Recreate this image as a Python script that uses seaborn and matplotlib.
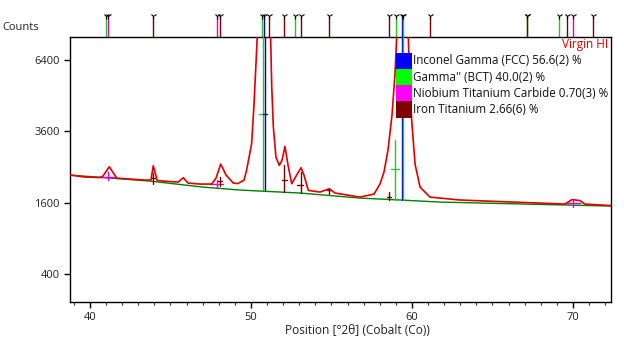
import numpy as np
import seaborn as sns
import matplotlib.pyplot as plt
from matplotlib.patches import Rectangle
from matplotlib.ticker import MultipleLocator, FixedLocator

# calculated profile (2theta, counts)
calc_theta = [38.76, 39.69, 40.62, 40.81, 41.20, 41.66, 42.48, 43.42, 43.79, 43.93, 44.18, 44.97,
              45.47, 45.80, 46.09, 46.83, 47.56, 47.83, 48.12, 48.45, 48.90, 49.19, 49.57, 49.73,
              50.04, 50.19, 50.31, 50.39, 50.81, 51.22, 51.29, 51.39, 51.55, 51.76, 51.93, 52.11,
              52.30, 52.53, 52.80, 53.11, 53.29, 53.56, 54.29, 54.86, 55.22, 56.77, 57.64, 58.01,
              58.26, 58.51, 58.76, 58.94, 59.05, 59.41, 59.77, 59.84, 59.98, 60.19, 60.50, 61.12,
              62.98, 65.47, 67.95, 69.50, 69.94, 70.43, 70.74, 72.36]
calc_counts = [2284, 2231, 2217, 2257, 2511, 2204, 2178, 2152, 2152, 2540, 2139, 2113,
               2100, 2212, 2075, 2049, 2049, 2204, 2588, 2284, 2075, 2062, 2152, 2420,
               3198, 4591, 6235, 7472, 20000, 7472, 5247, 3749, 2791, 2550, 2703, 3117,
               2559, 2057, 2257, 2483, 2284, 1892, 1851, 1932, 1828, 1732, 1803, 2049,
               2365, 3002, 4172, 5746, 7472, 20000, 7472, 5960, 3993, 2588, 1971, 1732,
               1665, 1629, 1595, 1573, 1675, 1652, 1573, 1540]

# background line
bg_theta = [38.76, 43.73, 47.02, 49.32, 53.04, 56.77, 59.25, 61.74, 72.36]
bg_counts = [2284, 2125, 1973, 1900, 1828, 1709, 1665, 1618, 1529]

phase_labels = ['Inconel Gamma (FCC) 56.6(2) %', "Gamma'' (BCT) 40.0(2) %",
                'Niobium Titanium Carbide 0.70(3) %', 'Iron Titanium 2.66(6) %']
legend_colors = ['#0000ff', '#00ff00', '#ff00ff', '#800000']
stick_colors = ['#0000c8', '#22cc22', '#e000e0', '#7a0000']

# reference positions shown above the plot (phase index)
ref_theta = [41.02, 41.12, 43.91, 47.89, 48.07, 50.70, 50.83, 51.14, 52.05, 52.75, 53.08,
             54.84, 58.59, 58.99, 59.38, 59.44, 61.12, 67.12, 67.14, 69.11, 69.65, 70.02, 71.26]
ref_phase = [1, 2, 3, 2, 3, 1, 0, 3, 3, 1, 3,
             3, 3, 1, 0, 1, 3, 1, 3, 1, 3, 2, 3]

# fitted peak markers inside the plot
mark_theta = [41.14, 43.91, 47.89, 48.09, 50.73, 50.87, 52.05, 53.08, 54.84, 58.59, 58.97, 59.38, 59.44, 70.02]
mark_phase = [2, 3, 2, 3, 1, 0, 3, 3, 3, 3, 1, 0, 1, 2]
mark_lo = [2152, 2062, 1950, 1999, 1895, 1895, 1851, 1840, 1810, 1665, 1665, 1665, 1665, 1508]
mark_hi = [2355, 2328, 2152, 2239, 30000, 30000, 2550, 2365, 1950, 1851, 3307, 30000, 30000, 1675]
mark_mid = [2239, 2204, 2049, 2120, 4220, 4220, 2160, 2024, 1892, 1732, 2438, 5000, 5000, 1589]
mark_left = [40.62, 43.80, 47.45, 47.98, 50.50, 50.75, 51.90, 52.88, 54.72, 58.45, 58.67, 59.30, 59.30, 69.50]
mark_right = [41.55, 44.05, 48.27, 48.22, 50.75, 50.98, 52.25, 53.25, 54.98, 58.72, 59.19, 59.50, 59.50, 70.43]

sns.set_style('white')
plt.rcParams['font.family'] = ['Open Sans', 'DejaVu Sans']

fig = plt.figure(figsize=(6.24, 3.51), dpi=100)
ax = fig.add_axes([70 / 624, 1 - 302 / 351, 541 / 624, 265 / 351])
ax.set_yscale('function', functions=(lambda v: np.sqrt(np.clip(v, 0, None)), np.square))

sns.lineplot(x=bg_theta, y=bg_counts, color='#008000', lw=1, ax=ax, sort=False, estimator=None, zorder=2)

for t, p, lo, hi, mid, l, r in zip(mark_theta, mark_phase, mark_lo, mark_hi, mark_mid, mark_left, mark_right):
    c = stick_colors[p]
    ax.plot([t, t], [lo, hi], color=c, lw=1, zorder=3)
    ax.plot([l, r], [mid, mid], color=c, lw=1, zorder=3)

sns.lineplot(x=calc_theta, y=calc_counts, color='#e00000', lw=1.2, ax=ax, sort=False, estimator=None, zorder=4)

ax.set_xlim(38.76, 72.36)
ax.set_ylim(150, 7472)
ax.xaxis.set_major_locator(MultipleLocator(10))
ax.xaxis.set_minor_locator(MultipleLocator(1))
ax.yaxis.set_major_locator(FixedLocator([400, 1600, 3600, 6400]))
ax.yaxis.set_minor_locator(FixedLocator([]))
ax.tick_params(axis='both', which='major', direction='out', length=4, width=1, labelsize=8,
               colors='black', labelcolor='#222222', bottom=True, left=True)
ax.tick_params(axis='x', which='minor', direction='out', length=2.5, width=0.8, bottom=True)
for s in ax.spines.values():
    s.set_color('black')
    s.set_linewidth(1)
ax.set_xlabel('Position [°2θ] (Cobalt (Co))', fontsize=8.6, color='#222222')
ax.xaxis.set_label_coords((357 - 70) / 541, -0.083)
ax.set_ylabel('')

# reference sticks above the frame
xt = ax.get_xaxis_transform()
for t, p in zip(ref_theta, ref_phase):
    ax.plot([t, t], [1.0, 1.075], color=stick_colors[p], lw=1, transform=xt, clip_on=False)
    ax.plot([t], [1.078], marker='1', ms=4.5, mew=0.8, color='black', transform=xt, clip_on=False)

# legend block
row_h = 16.25 / 265
for i, (lab, col) in enumerate(zip(phase_labels, legend_colors)):
    y0 = 1 - (52.7 - 37) / 265 - (i + 1) * row_h
    ax.add_patch(Rectangle((0.6026, y0), 15.7 / 541, row_h, transform=ax.transAxes,
                           facecolor=col, edgecolor='none', zorder=10, clip_on=False))
    ax.text(0.6335, y0 + row_h / 2, lab, transform=ax.transAxes, fontsize=8.4,
            va='center', ha='left', color='#111111', zorder=11)

ax.text(0.9945, 0.97, 'Virgin HI', transform=ax.transAxes, fontsize=8.5, color='#e00000',
        ha='right', va='center', zorder=11)
fig.text(2 / 624, 1 - 27 / 351, 'Counts', fontsize=8, color='#222222', ha='left', va='center')

fig.savefig('out.png', dpi=100)
